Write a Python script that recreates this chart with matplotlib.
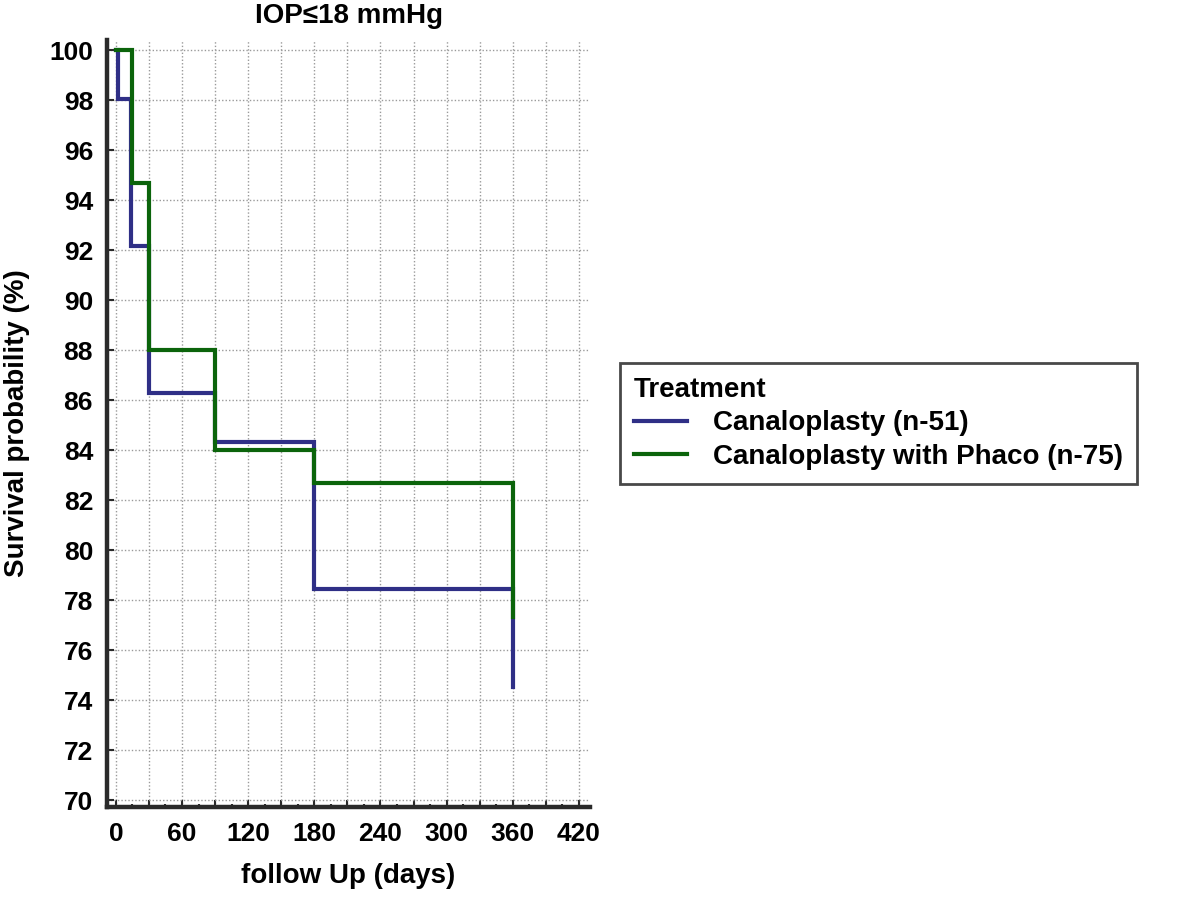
import matplotlib
matplotlib.use("Agg")
import matplotlib.pyplot as plt
from matplotlib.ticker import MultipleLocator

plt.rcParams['font.family'] = ['Liberation Sans', 'DejaVu Sans']
plt.rcParams['font.weight'] = 'bold'

# Kaplan-Meier step data (time in days, survival %)
canal_days = [0, 2, 14, 30, 90, 180, 360]
canal_surv = [100.0, 98.04, 92.16, 86.27, 84.31, 78.43, 74.51]
phaco_days = [0, 15, 30, 90, 180, 360]
phaco_surv = [100.0, 94.67, 88.0, 84.0, 82.67, 77.33]
end_day = 360

series_labels = ["Canaloplasty (n-51)", "Canaloplasty with Phaco (n-75)"]
x_ticks = [0, 60, 120, 180, 240, 300, 360, 420]
y_ticks = list(range(70, 101, 2))

blue = "#2f2f86"
green = "#0b640b"
axis_col = "#2a2a2a"

fig = plt.figure(figsize=(11.81, 8.97), dpi=100)
ax = fig.add_axes([0.0906, 0.1003, 0.409, 0.855])


def km_xy(days, surv, end):
    xs = list(days) + [end]
    ys = list(surv) + [surv[-1]]
    return xs, ys

xs, ys = km_xy(canal_days, canal_surv, end_day)
ax.step(xs, ys, where='post', color=blue, lw=3.0, solid_joinstyle='miter', zorder=3)
xs, ys = km_xy(phaco_days, phaco_surv, end_day)
ax.step(xs, ys, where='post', color=green, lw=3.0, solid_joinstyle='miter', zorder=4)

# legend handles
h1, = ax.plot([], [], color=blue, lw=3.0)
h2, = ax.plot([], [], color=green, lw=3.0)

ax.set_xlim(-8, 430)
ax.set_ylim(69.72, 100.4)

ax.xaxis.set_minor_locator(MultipleLocator(15))
ax.set_xticks(list(range(0, 421, 30)))
ax.set_xticklabels([str(v) if v in x_ticks else "" for v in range(0, 421, 30)])
ax.set_yticks(y_ticks)
ax.set_yticklabels([str(v) for v in y_ticks])

ax.grid(True, which='major', linestyle=(0, (1, 1.5)), color='#9a9a9a', lw=1.0)

for s in ['top', 'right']:
    ax.spines[s].set_visible(False)
for s in ['left', 'bottom']:
    ax.spines[s].set_linewidth(3.2)
    ax.spines[s].set_color(axis_col)

ax.tick_params(axis='both', which='major', direction='in', length=5, width=1.5,
               color=axis_col, labelsize=19)
ax.tick_params(axis='x', which='minor', direction='in', length=2.5, width=1.5, color=axis_col)
ax.tick_params(axis='y', pad=10)
ax.tick_params(axis='x', pad=11)
for lab in ax.get_xticklabels() + ax.get_yticklabels():
    lab.set_fontweight('bold')

ax.set_title("IOP≤18 mmHg", fontsize=20, fontweight='bold', pad=12)
ax.set_xlabel("follow Up (days)", fontsize=20, fontweight='bold', labelpad=12)
ax.set_ylabel("Survival probability (%)", fontsize=20, fontweight='bold', labelpad=14)

leg = fig.legend([h1, h2], series_labels, title="Treatment",
                 loc='upper left', bbox_to_anchor=(0.525, 0.5953),
                 fontsize=20, title_fontsize=20, frameon=True, fancybox=False,
                 handlelength=1.9, handletextpad=0.95, borderpad=0.5,
                 labelspacing=0.27, borderaxespad=0)
leg._legend_box.align = "left"
leg.get_title().set_fontweight('bold')
for t in leg.get_texts():
    t.set_fontweight('bold')
fr = leg.get_frame()
fr.set_edgecolor('#1a1a1a')
fr.set_linewidth(2.0)

fig.savefig("out.png", dpi=100)
